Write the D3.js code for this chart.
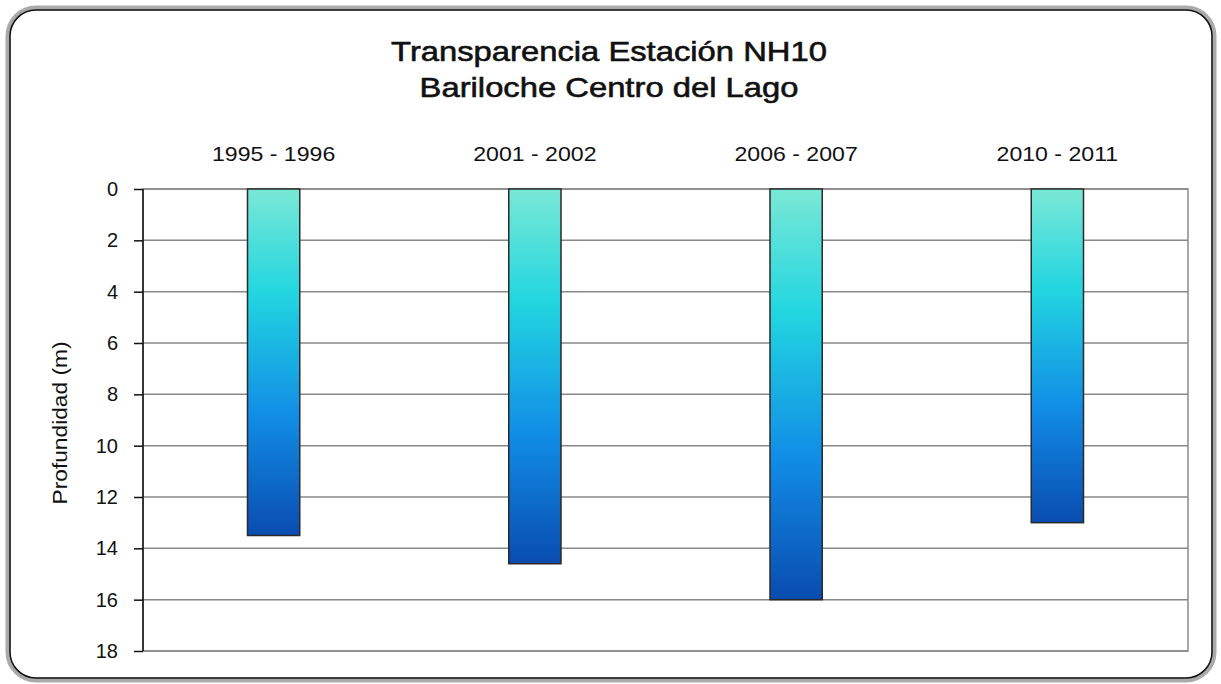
<!DOCTYPE html>
<html>
<head>
<meta charset="utf-8">
<script src="https://cdn.jsdelivr.net/npm/d3@7"></script>
<style>
  body { margin: 0; background: #fff; }
  text { font-family: "Liberation Sans", Arial, sans-serif; fill: #111; }
</style>
</head>
<body>
<div id="canvas"></div>
<script>
var categories = ["1995 - 1996", "2001 - 2002", "2006 - 2007", "2010 - 2011"];
var depths = [13.5, 14.6, 16, 13];
var yTicks = [0, 2, 4, 6, 8, 10, 12, 14, 16, 18];
var titleLines = ["Transparencia Estación NH10", "Bariloche Centro del Lago"];

// the original picture is a little wider than tall, stretch the text the same way
function stretch(sel, f) {
    sel.each(function() {
        var len = this.getComputedTextLength();
        d3.select(this)
            .attr("textLength", len * f)
            .attr("lengthAdjust", "spacingAndGlyphs");
    });
}

function init() {
    var W = 1221, H = 684;
    var svg = d3.select("#canvas").append("svg")
        .attr("width", W)
        .attr("height", H);

    // gradient for bars
    var defs = svg.append("defs");
    var grad = defs.append("linearGradient")
        .attr("id", "barGrad")
        .attr("x1", 0).attr("y1", 0).attr("x2", 0).attr("y2", 1);
    grad.append("stop").attr("offset", "0%").attr("stop-color", "#7ae8d6");
    grad.append("stop").attr("offset", "30%").attr("stop-color", "#22d6e0");
    grad.append("stop").attr("offset", "65%").attr("stop-color", "#118ee6");
    grad.append("stop").attr("offset", "100%").attr("stop-color", "#0a4cb0");

    // frame
    svg.append("rect")
        .attr("x", 8).attr("y", 8)
        .attr("width", 1206).attr("height", 672)
        .attr("rx", 28).attr("ry", 28)
        .style("fill", "#fff")
        .style("stroke", "#aaa")
        .style("stroke-width", 5);
    svg.append("rect")
        .attr("x", 10).attr("y", 10)
        .attr("width", 1202).attr("height", 668)
        .attr("rx", 26).attr("ry", 26)
        .style("fill", "none")
        .style("stroke", "#111")
        .style("stroke-width", 1.5);

    var left = 143, right = 1188, top = 189, bottom = 651;

    var x = d3.scaleBand()
        .domain(categories)
        .range([left, right])
        .paddingInner(0.8)
        .paddingOuter(0.4);
    var y = d3.scaleLinear()
        .domain([0, 18])
        .range([top, bottom]);

    // plot area border
    svg.append("rect")
        .attr("x", left).attr("y", top)
        .attr("width", right - left).attr("height", bottom - top)
        .style("fill", "#fff")
        .style("stroke", "#8a8a8a")
        .style("stroke-width", 1.5);

    // gridlines
    svg.append("g")
        .selectAll("line")
        .data(yTicks)
        .enter().append("line")
        .attr("x1", left).attr("x2", right)
        .attr("y1", function(d) { return y(d); })
        .attr("y2", function(d) { return y(d); })
        .style("stroke", "#888")
        .style("stroke-width", 1.5);

    // bars
    svg.append("g")
        .selectAll("rect")
        .data(depths)
        .enter().append("rect")
        .attr("x", function(d, i) { return x(categories[i]); })
        .attr("y", y(0))
        .attr("width", x.bandwidth())
        .attr("height", function(d) { return y(d) - y(0); })
        .style("fill", "url(#barGrad)")
        .style("stroke", "#2a2a2a")
        .style("stroke-width", 1.5);

    // y axis
    var yAxis = d3.axisLeft(y)
        .tickValues(yTicks)
        .tickSize(9)
        .tickPadding(16)
        .tickFormat(d3.format("d"));
    var ga = svg.append("g")
        .attr("transform", "translate(" + left + ",0)")
        .call(yAxis);
    ga.select(".domain").style("stroke", "#111").style("stroke-width", 1.5)
        .attr("d", "M0," + top + "V" + bottom);
    ga.selectAll(".tick line").style("stroke", "#111").style("stroke-width", 1.5);
    ga.selectAll(".tick text")
        .attr("font-size", 20)
        .style("font-family", "'Liberation Sans', Arial, sans-serif")
        .style("fill", "#111");

    // category labels on top
    var cat = svg.append("g")
        .selectAll("text")
        .data(categories)
        .enter().append("text")
        .attr("x", function(d) { return x(d) + x.bandwidth() / 2; })
        .attr("y", 161)
        .attr("text-anchor", "middle")
        .attr("font-size", 21)
        .text(function(d) { return d; });
    stretch(cat, 1.1);

    // title
    var tt = svg.append("g")
        .selectAll("text")
        .data(titleLines)
        .enter().append("text")
        .attr("x", 609)
        .attr("y", function(d, i) { return 61 + i * 36; })
        .attr("text-anchor", "middle")
        .attr("font-size", 28)
        .style("stroke", "#111")
        .style("stroke-width", 0.6)
        .text(function(d) { return d; });
    stretch(tt, 1.17);

    // y label
    svg.append("text")
        .attr("transform", "translate(67," + 423 + ") rotate(-90)")
        .attr("text-anchor", "middle")
        .attr("font-size", 21)
        .attr("textLength", 163)
        .attr("lengthAdjust", "spacingAndGlyphs")
        .text("Profundidad (m)");
}
window.onload = init;
</script>
</body>
</html>
